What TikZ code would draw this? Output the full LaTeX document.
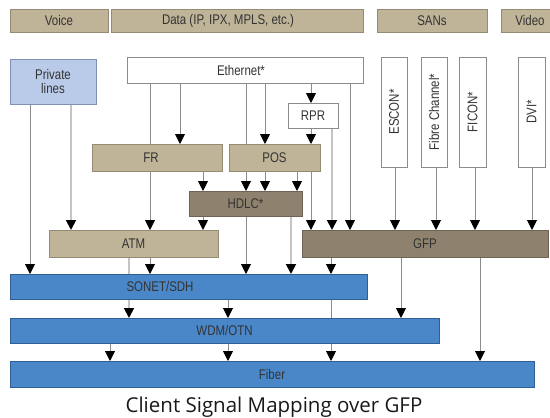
\documentclass[tikz,border=0pt]{standalone}
\usepackage{fontspec}
\setmainfont{Liberation Sans}
\newfontfamily\cond[FakeStretch=0.82]{Liberation Sans}
\newfontfamily\capfont{Open Sans}
\usetikzlibrary{arrows.meta,backgrounds}
\definecolor{tanF}{HTML}{BFB497}
\definecolor{tanD}{HTML}{958A74}
\definecolor{taupeF}{HTML}{8E826E}
\definecolor{taupeD}{HTML}{6E6453}
\definecolor{blueF}{HTML}{4A87C8}
\definecolor{blueD}{HTML}{2F5F93}
\definecolor{plF}{HTML}{BACBEA}
\definecolor{plD}{HTML}{8090B4}
\definecolor{txt}{HTML}{333333}
\definecolor{lineG}{HTML}{8C8C8C}
\definecolor{lineL}{HTML}{C4C4C4}
\tikzset{
  base/.style={draw, inner sep=0pt, outer sep=0pt, line width=0.9pt, font=\cond\fontsize{14}{16}\selectfont, text=txt},
  tanbox/.style={base, fill=tanF, draw=tanD},
  taupebox/.style={base, fill=taupeF, draw=taupeD},
  bluebox/.style={base, fill=blueF, draw=blueD},
  whitebox/.style={base, fill=white, draw=lineG},
  plbox/.style={base, fill=plF, draw=plD, align=center},
  arr/.style={draw=lineG, line width=0.9pt, -{Triangle[width=10pt,length=10pt,fill=black,color=black]}},
  arrL/.style={draw=lineL, line width=1.8pt, -{Triangle[width=10pt,length=10pt,fill=black,color=black]}},
  plain/.style={draw=lineG, line width=0.9pt},
}
\newcommand{\bx}[7]{\node[#6, minimum width={#4-#2}, minimum height={#5-#3}] (#1) at ({(#2+#4)/2},{(#3+#5)/2}) {#7};}
\begin{document}
\begin{tikzpicture}[x=1pt,y=-1pt]
\path[use as bounding box] (0,0) rectangle (550,418);
% top categories
\bx{voice}{10}{9}{108}{32}{tanbox}{Voice}
\bx{data}{111}{9}{363}{32}{tanbox}{}
\node[font=\cond\fontsize{14}{16}\selectfont, text=txt] (datat) at (228,20.5) {Data (IP, IPX, MPLS, etc.)};
\bx{sans}{377}{9}{487}{32}{tanbox}{SANs}
\bx{video}{501}{9}{562}{32}{tanbox}{}
\node[font=\cond\fontsize{14}{16}\selectfont, text=txt] (videot) at (530,20.5) {Video};
% sources
\bx{private}{10}{59}{96}{104}{plbox}{Private\\[-2pt]lines}
\bx{eth}{127}{57}{363}{83}{whitebox}{}
\node[font=\cond\fontsize{14}{16}\selectfont, text=txt] (etht) at (241,70) {Ethernet*};
\bx{rpr}{288}{103}{338}{128}{whitebox}{RPR}
\bx{escon}{381}{57}{407}{167}{whitebox}{\rotatebox{90}{ESCON*}}
\bx{fc}{421}{57}{447}{167}{whitebox}{\rotatebox{90}{Fibre Channel*}}
\bx{ficon}{459}{57}{486}{167}{whitebox}{\rotatebox{90}{FICON*}}
\bx{dvi}{518}{57}{545}{167}{whitebox}{\rotatebox{90}{DVI*}}
% adaptation
\bx{fr}{92}{144}{222}{171}{tanbox}{}
\node[font=\cond\fontsize{14}{16}\selectfont, text=txt] (frt) at (151,157.5) {FR};
\bx{pos}{229}{144}{320}{171}{tanbox}{POS}
\bx{hdlc}{189}{191}{302}{216}{taupebox}{HDLC*}
\bx{atm}{49}{230}{218}{257}{tanbox}{ATM}
\bx{gfp}{302}{230}{548}{257}{taupebox}{GFP}
% transport
\bx{sonet}{10}{274}{367}{299}{bluebox}{}
\node[font=\cond\fontsize{14}{16}\selectfont, text=txt] (sonett) at (160,286.5) {SONET/SDH};
\bx{wdm}{10}{318}{439}{343}{bluebox}{WDM/OTN}
\bx{fiber}{10}{361}{534}{387}{bluebox}{Fiber}
\node[font=\capfont\fontsize{20.5}{24}\selectfont, text=black!90] (cap) at (274,407) {Client Signal Mapping over GFP};
\begin{scope}[on background layer]
  \draw[arr]  (private.south -| 30,0) -- (sonet.north -| 30,0);
  \draw[arrL] (private.south -| 71,0) -- (atm.north -| 71,0);
  \draw[arr]  (eth.south -| 150,0) -- (atm.north -| 150,0);
  \draw[arr]  (eth.south -| 180,0) -- (fr.north -| 180,0);
  \draw[plain] (eth.south -| 246,0) -- (pos.north -| 246,0);
  \draw[arr]  (eth.south -| 265,0) -- (pos.north -| 265,0);
  \draw[arr]  (eth.south -| 311,0) -- (rpr.north -| 311,0);
  \draw[arr]  (eth.south -| 350,0) -- (gfp.north -| 350,0);
  \draw[arr]  (rpr.south -| 311,0) -- (pos.north -| 311,0);
  \draw[arrL] (rpr.south -| 332,0) -- (gfp.north -| 332,0);
  \draw[arr]  (fr.south -| 203,0) -- (hdlc.north -| 203,0);
  \draw[arr]  (pos.south -| 246,0) -- (hdlc.north -| 246,0);
  \draw[arr]  (pos.south -| 265,0) -- (hdlc.north -| 265,0);
  \draw[arr]  (pos.south -| 297,0) -- (hdlc.north -| 297,0);
  \draw[arr]  (pos.south -| 311,0) -- (gfp.north -| 311,0);
  \draw[arr]  (hdlc.south -| 203,0) -- (atm.north -| 203,0);
  \draw[arr]  (hdlc.south -| 246,0) -- (sonet.north -| 246,0);
  \draw[arrL] (hdlc.south -| 291,0) -- (sonet.north -| 291,0);
  \draw[arrL] (atm.south -| 129,0) -- (wdm.north -| 129,0);
  \draw[arr]  (atm.south -| 150,0) -- (sonet.north -| 150,0);
  \draw[arr]  (escon.south -| 395,0) -- (gfp.north -| 395,0);
  \draw[arr]  (fc.south -| 436,0) -- (gfp.north -| 436,0);
  \draw[arr]  (ficon.south -| 475,0) -- (gfp.north -| 475,0);
  \draw[arr]  (dvi.south -| 532,0) -- (gfp.north -| 532,0);
  \draw[arr]  (gfp.south -| 331,0) -- (sonet.north -| 331,0);
  \draw[arr]  (gfp.south -| 401,0) -- (wdm.north -| 401,0);
  \draw[arr]  (gfp.south -| 480,0) -- (fiber.north -| 480,0);
  \draw[arr]  (sonet.south -| 228,0) -- (wdm.north -| 228,0);
  \draw[arr]  (sonet.south -| 331,0) -- (fiber.north -| 331,0);
  \draw[arr]  (wdm.south -| 110,0) -- (fiber.north -| 110,0);
  \draw[arr]  (wdm.south -| 228,0) -- (fiber.north -| 228,0);
\end{scope}
\end{tikzpicture}
\end{document}
